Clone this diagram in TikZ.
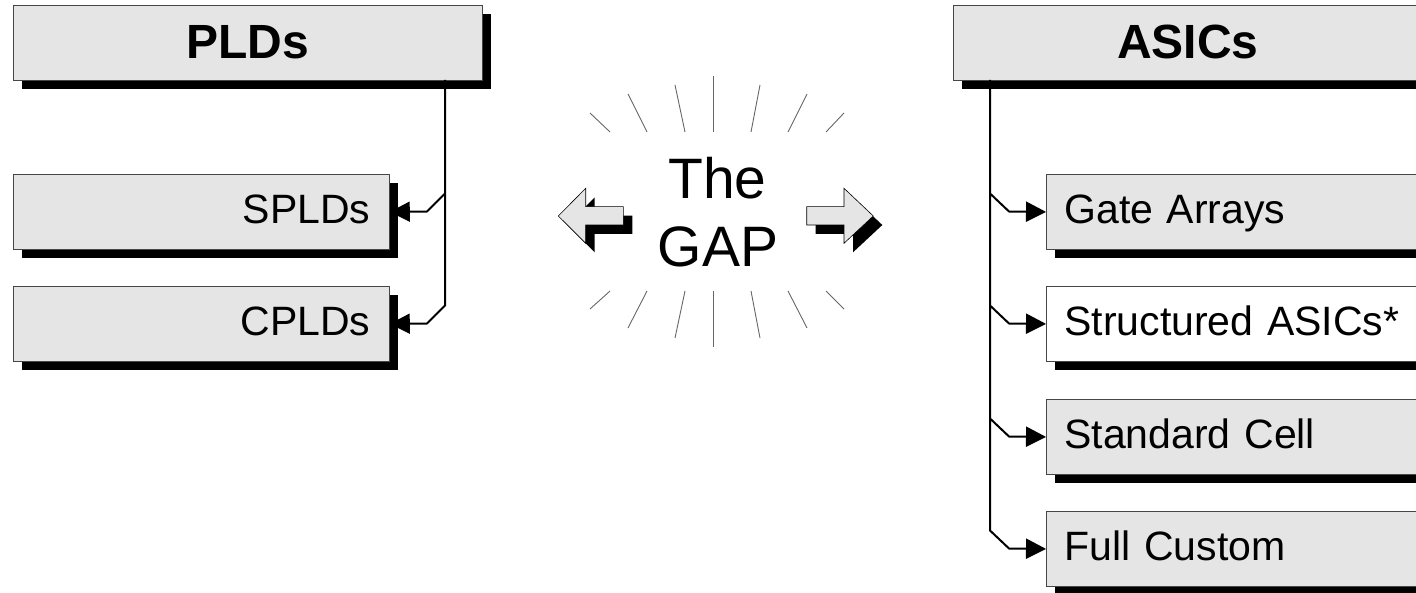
\documentclass[tikz,border=0pt]{standalone}
\usepackage{fontspec}
\setmainfont{Liberation Sans}
\usetikzlibrary{shadows,arrows.meta}
\definecolor{boxgray}{RGB}{229,229,229}
\definecolor{edgegray}{RGB}{70,70,70}
\tikzset{
  box/.style={draw=edgegray, line width=0.8pt, fill=boxgray, rectangle, inner sep=0pt,
    minimum height=75pt, anchor=north west,
    drop shadow={shadow xshift=9pt, shadow yshift=-9pt, opacity=1, fill=black}},
  headbox/.style={box, minimum width=469pt, text width=469pt, align=center,
    font=\bfseries\fontsize{48}{50}\selectfont, text height=40pt, text depth=8pt},
  lbox/.style={box, minimum width=376pt, text width=338pt, inner xsep=19pt, align=right,
    font=\fontsize{41}{43}\selectfont, text height=30pt, text depth=7pt},
  rbox/.style={box, minimum width=376pt, text width=340pt, inner xsep=18pt, align=left,
    font=\fontsize{41}{43}\selectfont, text height=30pt, text depth=7pt},
  trunk/.style={line width=2pt},
  conn/.style={line width=2pt, -{Triangle[length=20pt,width=20pt]}},
  ray/.style={draw=black!60, line width=0.9pt},
  blockarrow/.style={draw=black, line width=0.6pt, fill=boxgray},
  blockshadow/.style={fill=black},
  gaptext/.style={anchor=base, font=\fontsize{57}{60}\selectfont, inner sep=0pt}
}
\begin{document}
\begin{tikzpicture}[x=1pt,y=-1pt]
\useasboundingbox (0,0) rectangle (1416,593);

% left column
\node[headbox] (plds) at (13,5) {PLDs};
\node[lbox] (splds) at (13,174) {SPLDs};
\node[lbox] (cplds) at (13,286) {CPLDs};

% right column
\node[headbox] (asics) at (953,5) {ASICs};
\node[rbox] (gate) at (1046,174) {Gate Arrays};
\node[rbox, fill=white] (struct) at (1046,286) {Structured ASICs*};
\node[rbox] (std) at (1046,399) {Standard Cell};
\node[rbox] (full) at (1046,511) {Full Custom};

% left connectors
\coordinate (ltop) at (445,80);
\draw[conn] (ltop) -- (445,305.5) -- (427,323.5) -- (cplds.east);
\draw[conn] (445,193.5) -- (427,211.5) -- (splds.east);

% right connectors
\coordinate (rtop) at (990,80);
\draw[conn] (rtop) -- (990,530.5) -- (1009,548.5) -- (full.west);
\draw[conn] (990,193.5) -- (1009,211.5) -- (gate.west);
\draw[conn] (990,305.5) -- (1009,323.5) -- (struct.west);
\draw[conn] (990,418.5) -- (1009,436.5) -- (std.west);

% the gap text
\node[gaptext] (the) at (717.5,198.3) {The};
\node[gaptext] (gap) at (718,266.7) {GAP};

% rays
\draw[ray] (590,113) -- (610,132);
\draw[ray] (628,94) -- (647,132);
\draw[ray] (675,85) -- (685,132);
\draw[ray] (713,76) -- (713,132);
\draw[ray] (760,85) -- (751,132);
\draw[ray] (807,94) -- (788,132);
\draw[ray] (844,113) -- (826,132);
\draw[ray] (610,291) -- (590,309);
\draw[ray] (647,291) -- (628,328);
\draw[ray] (685,291) -- (675,338);
\draw[ray] (713,291) -- (713,347);
\draw[ray] (751,291) -- (760,338);
\draw[ray] (788,291) -- (807,328);
\draw[ray] (826,291) -- (844,309);

% left block arrow
\begin{scope}[shift={(9,9)}]
\fill[blockshadow] (558.3,216) -- (585.7,188.3) -- (585.7,206.7) -- (623.3,206.7) -- (623.3,225) -- (585.7,225) -- (585.7,243.3) -- cycle;
\end{scope}
\draw[blockarrow] (558.3,216) -- (585.7,188.3) -- (585.7,206.7) -- (623.3,206.7) -- (623.3,225) -- (585.7,225) -- (585.7,243.3) -- cycle;

% right block arrow
\begin{scope}[shift={(9,9)}]
\fill[blockshadow] (806.7,206.7) -- (844,206.7) -- (844,188.3) -- (873.3,216) -- (844,243.3) -- (844,225) -- (806.7,225) -- cycle;
\end{scope}
\draw[blockarrow] (806.7,206.7) -- (844,206.7) -- (844,188.3) -- (873.3,216) -- (844,243.3) -- (844,225) -- (806.7,225) -- cycle;
\end{tikzpicture}
\end{document}
